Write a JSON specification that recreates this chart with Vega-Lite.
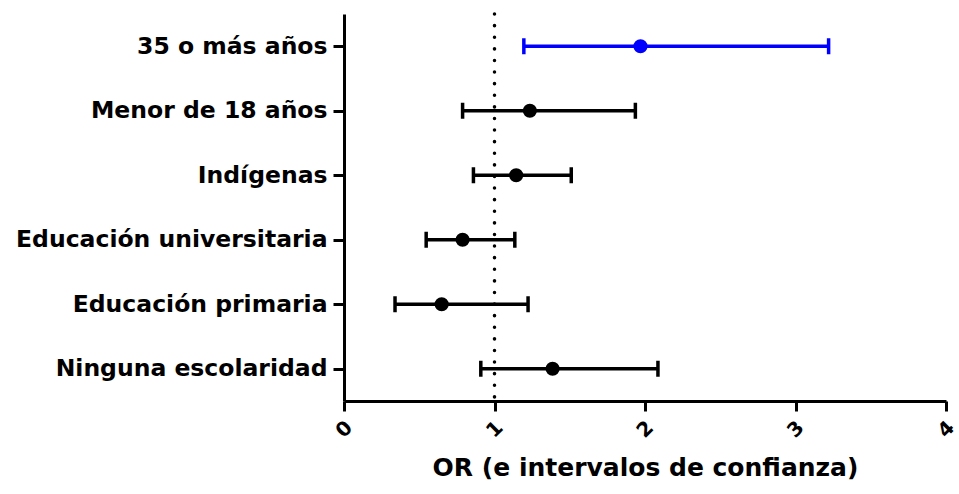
{
  "$schema": "https://vega.github.io/schema/vega-lite/v6.json",
  "width": 602,
  "height": 387,
  "autosize": {"type": "none"},
  "padding": {"left": 344, "top": 14, "right": 13, "bottom": 93},
  "background": "white",
  "config": {"view": {"stroke": null}, "font": "DejaVu Sans"},
  "data": {
    "values": [
      {"label": "35 o más años", "or": 1.97, "lower": 1.195, "upper": 3.22},
      {"label": "Menor de 18 años", "or": 1.235, "lower": 0.788, "upper": 1.936},
      {"label": "Indígenas", "or": 1.144, "lower": 0.86, "upper": 1.51},
      {"label": "Educación universitaria", "or": 0.788, "lower": 0.546, "upper": 1.135},
      {"label": "Educación primaria", "or": 0.649, "lower": 0.339, "upper": 1.223},
      {"label": "Ninguna escolaridad", "or": 1.386, "lower": 0.909, "upper": 2.086}
    ]
  },
  "encoding": {
    "y": {
      "field": "label",
      "type": "nominal",
      "sort": null,
      "scale": {"type": "point", "padding": 0.5},
      "axis": {
        "title": null,
        "domainColor": "black",
        "domainWidth": 3,
        "tickColor": "black",
        "tickWidth": 3,
        "tickSize": 11,
        "labelPadding": 6,
        "labelFont": "DejaVu Sans",
        "labelFontWeight": "bold",
        "labelFontSize": 23.5,
        "labelColor": "black",
        "labelLimit": 400
      }
    },
    "color": {
      "field": "label",
      "type": "nominal",
      "scale": {
        "domain": ["35 o más años", "Menor de 18 años", "Indígenas", "Educación universitaria", "Educación primaria", "Ninguna escolaridad"],
        "range": ["#0000ff", "#000000", "#000000", "#000000", "#000000", "#000000"]
      },
      "legend": null
    }
  },
  "layer": [
    {
      "data": {"values": [{"ref": 1}]},
      "mark": {"type": "rule", "strokeWidth": 3.5, "strokeDash": [0.1, 11.5], "strokeCap": "round", "color": "black"},
      "encoding": {"x": {"datum": 1}, "y": null, "color": null}
    },
    {
      "mark": {"type": "rule", "strokeWidth": 3.5},
      "encoding": {
        "x": {
          "field": "lower",
          "type": "quantitative",
          "scale": {"domain": [0, 4], "nice": false},
          "axis": {
            "title": "OR (e intervalos de confianza)",
            "values": [0, 1, 2, 3, 4],
            "format": "d",
            "grid": false,
            "domainColor": "black",
            "domainWidth": 3,
            "tickColor": "black",
            "tickWidth": 3,
            "tickSize": 10,
            "labelAngle": -45,
            "labelAlign": "center",
            "labelBaseline": "middle",
            "labelPadding": 18,
            "labelFont": "DejaVu Sans",
            "labelFontWeight": "bold",
            "labelFontSize": 20,
            "labelColor": "black",
            "labelFlush": false,
            "titleFont": "DejaVu Sans",
            "titleFontWeight": "bold",
            "titleFontSize": 25,
            "titleColor": "black",
            "titlePadding": 15
          }
        },
        "x2": {"field": "upper"}
      }
    },
    {
      "mark": {"type": "tick", "thickness": 3.5, "size": 16, "opacity": 1},
      "encoding": {"x": {"field": "lower", "type": "quantitative"}}
    },
    {
      "mark": {"type": "tick", "thickness": 3.5, "size": 16, "opacity": 1},
      "encoding": {"x": {"field": "upper", "type": "quantitative"}}
    },
    {
      "mark": {"type": "point", "filled": true, "shape": "circle", "size": 200, "opacity": 1},
      "encoding": {"x": {"field": "or", "type": "quantitative"}}
    }
  ]
}
